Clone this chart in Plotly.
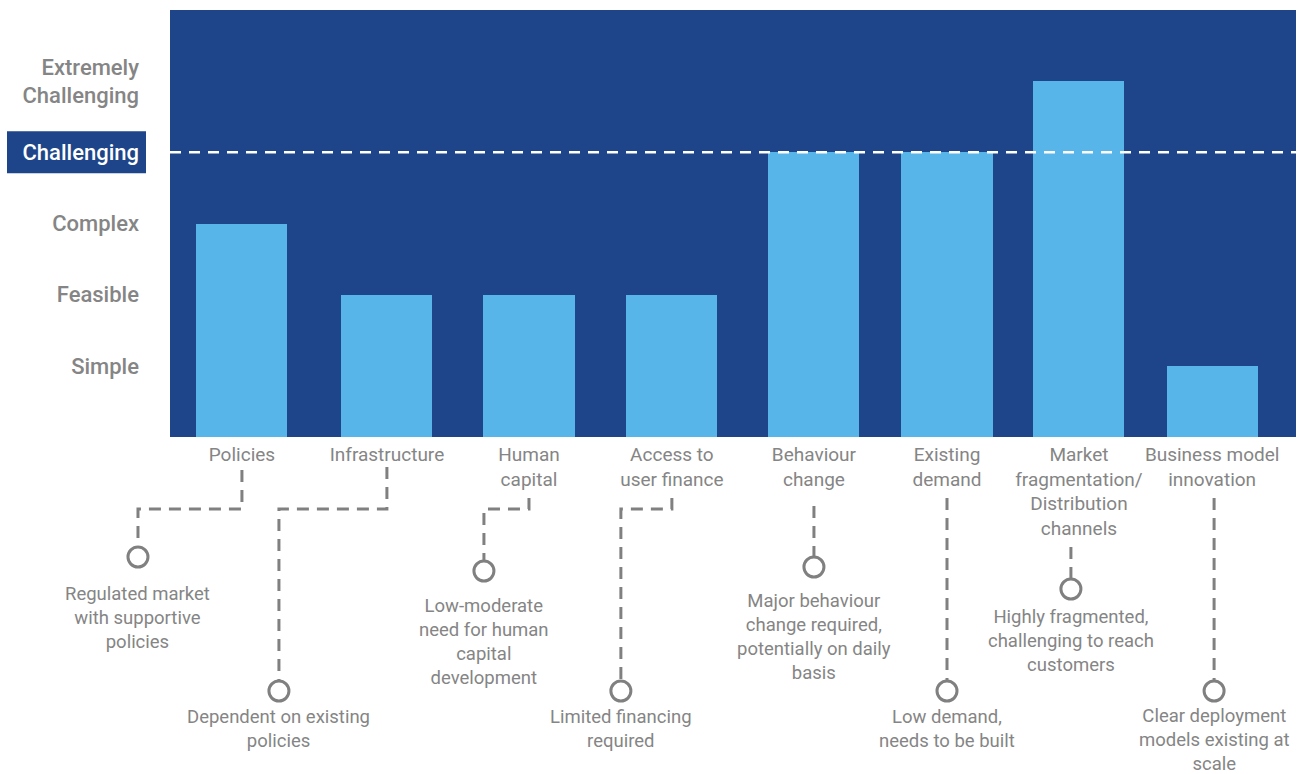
import plotly.graph_objects as go

# ---- data -------------------------------------------------------------
categories = [
    "Policies",
    "Infrastructure",
    "Human<br>capital",
    "Access to<br>user finance",
    "Behaviour<br>change",
    "Existing<br>demand",
    "Market<br>fragmentation/<br>Distribution<br>channels",
    "Business model<br>innovation",
]
difficulty = [3, 2, 2, 2, 4, 4, 5, 1]

level_values = [1, 2, 3, 4, 5]
level_labels = ["Simple", "Feasible", "Complex", "Challenging", "Extremely<br>Challenging"]
threshold_level = 4

notes = [
    "Regulated market<br>with supportive<br>policies",
    "Dependent on existing<br>policies",
    "Low-moderate<br>need for human<br>capital<br>development",
    "Limited financing<br>required",
    "Major behaviour<br>change required,<br>potentially on daily<br>basis",
    "Low demand,<br>needs to be built",
    "Highly fragmented,<br>challenging to reach<br>customers",
    "Clear deployment<br>models existing at<br>scale",
]

# ---- layout / styling ---------------------------------------------------
DARK_BLUE = "#1E4589"
LIGHT_BLUE = "#58B5E9"
GREY_TEXT = "#858585"
GREY_LINE = "#808080"
FONT = "Roboto"

W, H = 1301, 774
M_L, M_R, M_T, M_B = 170, 5, 10, 337
PW, PH = W - M_L - M_R, H - M_T - M_B

# column centres on the x axis (slightly tighter on the right half)
xpos = [0, 1.046, 2.071, 3.102, 4.127, 5.087, 6.039, 7.0]
XR = [-0.519, 7.605]
BAR_W = 0.657

# connector geometry under each column, in px below the plot floor:
# (drop offset in x units, dash start, elbow, circle, first text line)
connectors = [
    (-0.750, 33, 72, 120, 158),
    (-0.779, 30, 72, 254, 281),
    (-0.325, 61, 72, 134, 170),
    (-0.368, 61, 72, 254, 281),
    (0.000, 69, None, 130, 165),
    (0.000, 61, None, 254, 281),
    (-0.058, 110, None, 152, 181),
    (0.014, 61, None, 254, 280),
]


def xp(xu):
    return (xu - XR[0]) / (XR[1] - XR[0])


def yp(d):
    return -d / PH


fig = go.Figure()
fig.add_trace(
    go.Bar(
        x=xpos,
        y=difficulty,
        width=BAR_W,
        marker=dict(color=LIGHT_BLUE, line=dict(width=0)),
        hoverinfo="skip",
    )
)

shapes = []
annotations = []

# threshold line
shapes.append(dict(
    type="line", xref="paper", yref="y", x0=0, x1=1,
    y0=threshold_level, y1=threshold_level, layer="above",
    line=dict(color="white", width=2.5, dash="11px,8px"),
))

# highlight box behind the threshold tick label
box_half = 21 / (PH / 6)
shapes.append(dict(
    type="rect", xref="paper", yref="y",
    x0=(7 - M_L) / PW, x1=(146 - M_L) / PW,
    y0=threshold_level - box_half, y1=threshold_level + box_half,
    fillcolor=DARK_BLUE, line=dict(width=0), layer="below",
))

# connectors, circles and note texts
R = 10
NOTE_SIZE = 18.5
for i, (off, d0, elbow, dc, dt) in enumerate(connectors):
    cx = xp(xpos[i])
    dx = xp(xpos[i] + off)
    if elbow is not None:
        path = (f"M {cx},{yp(d0)} L {cx},{yp(elbow)} "
                f"L {dx},{yp(elbow)} L {dx},{yp(dc - R)}")
    else:
        path = f"M {dx},{yp(d0)} L {dx},{yp(dc - R)}"
    shapes.append(dict(
        type="path", xref="paper", yref="paper", path=path,
        line=dict(color=GREY_LINE, width=3, dash="12px,8px"), layer="above",
    ))
    shapes.append(dict(
        type="circle", xref="paper", yref="paper",
        xsizemode="pixel", ysizemode="pixel",
        xanchor=dx, yanchor=yp(dc),
        x0=-R, x1=R, y0=-R, y1=R,
        fillcolor="white", line=dict(color=GREY_LINE, width=3), layer="above",
    ))
    annotations.append(dict(
        xref="paper", yref="paper", x=dx, y=yp(dt - 13),
        xanchor="center", yanchor="top", align="center",
        text=notes[i], showarrow=False, borderpad=0,
        font=dict(family=FONT, size=NOTE_SIZE, color=GREY_TEXT),
    ))

ticktext_y = [
    f'<span style="color:white">{t}</span>' if v == threshold_level else t
    for v, t in zip(level_values, level_labels)
]

fig.update_layout(
    width=W, height=H,
    margin=dict(l=M_L, r=M_R, t=M_T, b=M_B),
    paper_bgcolor="white",
    plot_bgcolor=DARK_BLUE,
    showlegend=False,
    bargap=0,
    shapes=shapes,
    annotations=annotations,
    xaxis=dict(
        range=XR, tickvals=xpos, ticktext=categories,
        showgrid=False, zeroline=False, showline=False, ticks="",
        tickangle=0, ticklabelstandoff=4,
        tickfont=dict(family=FONT, size=19, color=GREY_TEXT),
        fixedrange=True,
    ),
    yaxis=dict(
        range=[0, 6], tickvals=level_values, ticktext=ticktext_y,
        showgrid=False, zeroline=False, showline=False, ticks="",
        ticklabelstandoff=30,
        tickfont=dict(family=FONT, size=22, color=GREY_TEXT, weight=500),
        fixedrange=True,
    ),
)

fig.write_html("out.html", config={"displayModeBar": False})
